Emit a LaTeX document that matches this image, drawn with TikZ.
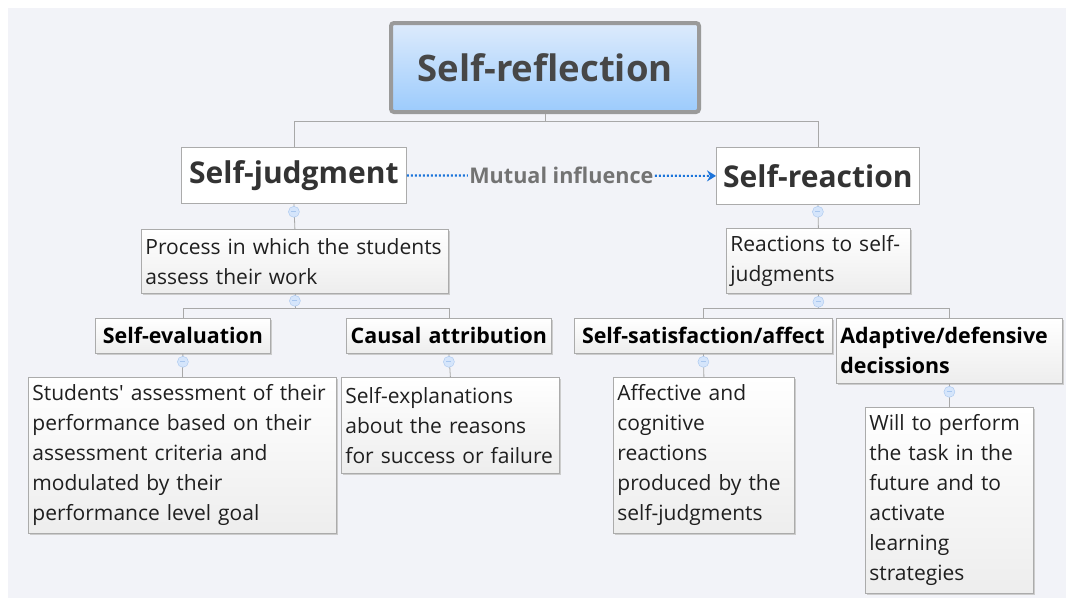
\documentclass[tikz,border=0pt]{standalone}
\usepackage{fontspec}
\setmainfont{Open Sans}
\usetikzlibrary{shadows,arrows.meta,calc}
\definecolor{bg}{HTML}{F2F3F8}
\definecolor{bordergray}{HTML}{ABABAB}
\definecolor{rootborder}{HTML}{9A9A9A}
\definecolor{roottop}{HTML}{DDEBFC}
\definecolor{rootbot}{HTML}{9CCBFC}
\definecolor{linkblue}{HTML}{1C74DA}
\definecolor{knobfill}{HTML}{D5E5FB}
\definecolor{knobdraw}{HTML}{A8C6EE}
\definecolor{conngray}{HTML}{A8A8A8}
\begin{document}
\begin{tikzpicture}[x=1pt,y=-1pt,
  box/.style={draw=bordergray, line width=0.8pt, top color=white, bottom color=black!7,
    anchor=north west, inner xsep=4pt, inner ysep=2pt, align=left, text=black!88,
    font=\fontsize{21}{30}\selectfont,
    general shadow={shadow xshift=1.2pt, shadow yshift=-1.2pt, fill=black!20}},
  titlebox/.style={box, inner xsep=2pt, align=center, font=\fontsize{21.4}{30}\selectfont\bfseries, text=black},
  topbox/.style={draw=bordergray, line width=0.8pt, fill=white, anchor=north west,
    inner sep=0pt, align=center, text=black!80, font=\fontsize{30}{34}\selectfont\bfseries},
  conn/.style={draw=conngray, line width=0.8pt},
  knob/.style={circle, draw=knobdraw, fill=knobfill, minimum size=11pt, inner sep=0pt,
    path picture={\draw[knobdraw, line width=0.8pt]
      ([xshift=-2.5pt]path picture bounding box.center) -- ([xshift=2.5pt]path picture bounding box.center);}}
]
\useasboundingbox (0,0) rectangle (1066,598);
\fill[bg] (8,8) rectangle (1066,598);

% root
\node[draw=rootborder, line width=4pt, rounded corners=3pt, top color=roottop, bottom color=rootbot,
  minimum width=308pt, minimum height=89pt, text=black!72,
  font=\fontsize{36.5}{40}\selectfont\bfseries] (root) at (545,67.5) {Self-reflection};

% level 1
\node[topbox, minimum width=225pt, minimum height=56pt] (sj) at (181,147) {Self-judgment};
\node[topbox, minimum width=203pt, minimum height=57pt] (sr) at (716,147) {Self-reaction};

% level 2
\node[box, text width=299pt, minimum height=64pt] (proc) at (141,229) {Process in which the students\\assess their work};
\node[box, text width=176pt, minimum height=65pt] (reac) at (726,228) {Reactions to self-\\judgments};

% level 3
\node[titlebox, text width=171pt, minimum height=35pt] (seval) at (95,318) {\mbox{Self-evaluation}};
\node[titlebox, text width=201pt, minimum height=35pt] (causal) at (346,318) {\mbox{Causal attribution}};
\node[titlebox, text width=254pt, minimum height=35pt] (ssat) at (574,318) {\mbox{Self-satisfaction/affect}};
\node[titlebox, inner xsep=4pt, text width=218pt, minimum height=65pt, align=left] (adapt) at (836,318) {Adaptive/defensive\\decissions};

% level 4
\node[box, text width=300pt, minimum height=156pt] (stud) at (28,377) {Students\textquotesingle\ assessment of their\\performance based on their\\assessment criteria and\\modulated by their\\performance level goal};
\node[box, text width=210pt, minimum height=96pt] (expl) at (341,377) {Self-explanations\\about the reasons\\for success or failure};
\node[box, text width=173pt, minimum height=156pt] (affe) at (613,377) {Affective and\\cognitive\\reactions\\produced by the\\self-judgments};
\node[box, text width=160pt, minimum height=186pt] (will) at (865,407) {Will to perform\\the task in the\\future and to\\activate\\learning\\strategies};

% connectors
\coordinate (rj) at ($(root.south)+(0,7)$);
\draw[conn] (root.south) -- (rj) -| (sj.north);
\draw[conn] (rj) -| (sr.north);
\draw[conn] (sj.south) -- (proc.north);
\draw[conn] (sr.south) -- (reac.north);
\coordinate (pj) at ($(proc.south)+(0,15)$);
\draw[conn] (proc.south) -- (pj) -| (seval.north);
\draw[conn] (pj) -| (causal.north);
\coordinate (qj) at ($(reac.south)+(0,15)$);
\draw[conn] (reac.south) -- (qj) -| (ssat.north);
\draw[conn] (qj) -| (adapt.north);
\draw[conn] (seval.south) -- (stud.north);
\draw[conn] (causal.south) -- (expl.north);
\draw[conn] (ssat.south) -- (affe.north);
\draw[conn] (adapt.south) -- (will.north);

% knobs
\node[knob] (k1) at ($(sj.south)+(0,8)$) {};
\node[knob] (k2) at ($(sr.south)+(0,7)$) {};
\node[knob] (k3) at ($(proc.south)+(0,7)$) {};
\node[knob] (k4) at ($(reac.south)+(0,8)$) {};
\node[knob] (k5) at ($(seval.south)+(0,8)$) {};
\node[knob] (k6) at ($(causal.south)+(0,8)$) {};
\node[knob] (k7) at ($(ssat.south)+(0,8)$) {};
\node[knob] (k8) at ($(adapt.south)+(0,8)$) {};

% mutual influence
\draw[linkblue, line width=2.2pt, dash pattern=on 2pt off 2pt, -{Stealth[length=9pt,width=11pt,inset=3pt]}]
  (sj.east) -- (sr.west)
  node[midway, fill=bg, inner xsep=1pt, text=black!55, font=\fontsize{21.6}{24}\selectfont\bfseries] (mi) {Mutual influence};
\end{tikzpicture}
\end{document}
